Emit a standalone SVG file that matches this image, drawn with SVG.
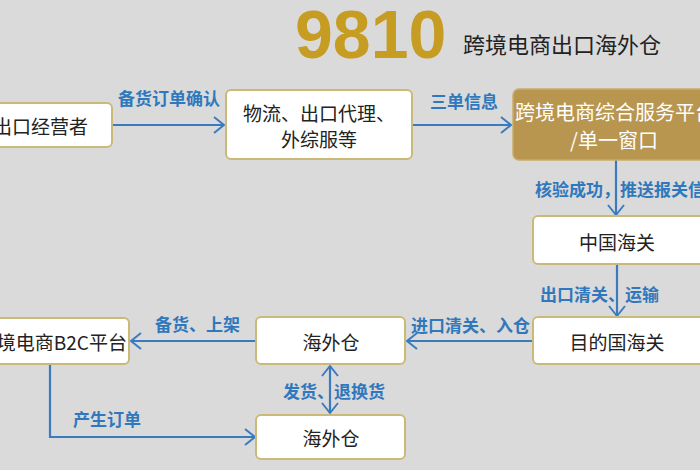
<svg xmlns="http://www.w3.org/2000/svg" width="700" height="470" viewBox="0 0 700 470">
<defs>
<marker id="arr" markerUnits="userSpaceOnUse" markerWidth="14" markerHeight="18" refX="11" refY="9" orient="auto-start-reverse" viewBox="0 0 14 18">
<path d="M1,1 L11,9 L1,17" fill="none" stroke="#3a7bbf" stroke-width="2"/>
</marker>
<style>
.box{fill:#ffffff;stroke:#cbb978;stroke-width:2}
.gold{fill:#b8964f;stroke:#c9ad6a;stroke-width:1.5}
.t{font-family:"Noto Sans CJK SC","Liberation Sans",sans-serif;font-size:19px;fill:#222;text-anchor:middle;dominant-baseline:central}
.tw{fill:#ffffff}
.lbl{font-family:"Noto Sans CJK SC","Liberation Sans",sans-serif;font-size:17px;font-weight:bold;fill:#2f78bd;dominant-baseline:central}
.ln{fill:none;stroke:#3a7bbf;stroke-width:2.2}
</style>
</defs>
<rect width="700" height="470" fill="#dadada"/>
<g id="title">
<text x="295" y="58" font-family="Liberation Sans, Arial, sans-serif" font-size="68" font-weight="bold" fill="#c69c22">9810</text>
<text x="463" y="43" font-family="'Noto Sans CJK SC', 'Liberation Sans', sans-serif" font-size="22" fill="#222" dominant-baseline="central">跨境电商出口海外仓</text>
</g>
<g id="connectors">
<line class="ln" x1="112" y1="125" x2="224" y2="125" marker-end="url(#arr)"/>
<text class="lbl" x="118" y="97">备货订单确认</text>
<line class="ln" x1="412" y1="125" x2="511" y2="125" marker-end="url(#arr)"/>
<text class="lbl" x="430" y="100">三单信息</text>
<line class="ln" x1="616" y1="160" x2="616" y2="215" marker-end="url(#arr)"/>
<text class="lbl" x="535" y="188">核验成功，推送报关信</text>
<line class="ln" x1="617" y1="264" x2="617" y2="316" marker-end="url(#arr)"/>
<text class="lbl" x="540" y="293">出口清关、运输</text>
<line class="ln" x1="533" y1="341" x2="407" y2="341" marker-end="url(#arr)"/>
<text class="lbl" x="411" y="324">进口清关、入仓</text>
<line class="ln" x1="256" y1="341" x2="131" y2="341" marker-end="url(#arr)"/>
<text class="lbl" x="155" y="323">备货、上架</text>
<line class="ln" x1="330" y1="366" x2="330" y2="413" marker-start="url(#arr)" marker-end="url(#arr)"/>
<text class="lbl" x="283" y="390">发货、退换货</text>
<polyline class="ln" points="50,364 50,437 255,437" marker-end="url(#arr)"/>
<text class="lbl" x="73" y="418">产生订单</text>
</g>
<g id="n-exporter">
<rect class="box" x="-20" y="103" width="132" height="44" rx="5"/>
<text class="t" x="88" y="125" style="text-anchor:end">出口经营者</text>
</g>
<g id="n-logistics">
<rect class="box" x="226" y="90" width="186" height="69" rx="5"/>
<text class="t" x="319" y="112">物流、出口代理、</text>
<text class="t" x="319" y="138">外综服等</text>
</g>
<g id="n-platform">
<rect class="gold" x="513" y="89" width="215" height="71" rx="6"/>
<text class="t tw" x="515" y="111" style="text-anchor:start;font-size:20px">跨境电商综合服务平台</text>
<text class="t tw" x="614" y="139" style="font-size:20px">/单一窗口</text>
</g>
<g id="n-cn-customs">
<rect class="box" x="533" y="216" width="190" height="48" rx="5"/>
<text class="t" x="617" y="241">中国海关</text>
</g>
<g id="n-dest-customs">
<rect class="box" x="533" y="317" width="190" height="47" rx="5"/>
<text class="t" x="617" y="341">目的国海关</text>
</g>
<g id="n-warehouse1">
<rect class="box" x="256" y="317" width="149" height="47" rx="5"/>
<text class="t" x="331" y="341">海外仓</text>
</g>
<g id="n-b2c">
<rect class="box" x="-20" y="318" width="149" height="46" rx="5"/>
<text class="t" x="127" y="341" style="text-anchor:end">境电商B2C平台</text>
</g>
<g id="n-warehouse2">
<rect class="box" x="256" y="415" width="149" height="44" rx="5"/>
<text class="t" x="331" y="437">海外仓</text>
</g>
</svg>
